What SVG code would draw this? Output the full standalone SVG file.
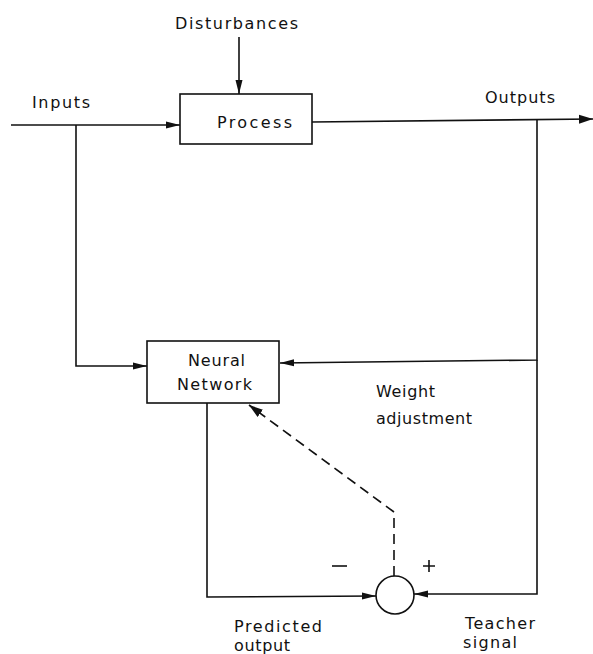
<svg xmlns="http://www.w3.org/2000/svg" width="593" height="654" viewBox="0 0 593 654">
<defs>
<style>
.t{font-family:"DejaVu Sans","Liberation Sans",sans-serif;font-size:16px;fill:#111}
.ln{stroke:#111;stroke-width:1.6;fill:none}
.bx{stroke:#111;stroke-width:1.6;fill:#fff}
.ds{stroke:#111;stroke-width:1.6;fill:none;stroke-dasharray:10,6}
</style>
<marker id="ah" viewBox="0 0 14 8" refX="14" refY="4" markerWidth="14" markerHeight="8" markerUnits="userSpaceOnUse" orient="auto">
<path d="M0,0.5 L14,4 L0,7.5 Z" fill="#111"/>
</marker>
<marker id="ahd" viewBox="0 0 14 10" refX="14" refY="5" markerWidth="14" markerHeight="10" markerUnits="userSpaceOnUse" orient="auto">
<path d="M0,0.5 L14,5 L0,9.5 Z" fill="#111"/>
</marker>
</defs>
<rect width="593" height="654" fill="#fff"/>
<g id="connectors">
<line class="ln" x1="239" y1="37" x2="239" y2="94" marker-end="url(#ah)"/>
<line class="ln" x1="11" y1="125" x2="180" y2="125" marker-end="url(#ah)"/>
<line class="ln" x1="312" y1="122" x2="593" y2="119" marker-end="url(#ahd)"/>
<polyline class="ln" points="76,125 76,366 147,366" marker-end="url(#ah)"/>
<polyline class="ln" points="537,120 537,360 280,363" marker-end="url(#ah)"/>
<polyline class="ln" points="537,360 537,594 414,594" marker-end="url(#ah)"/>
<polyline class="ln" points="207,403 207,597 376,596" marker-end="url(#ah)"/>
<polyline class="ds" points="394,576 394,512 249,405" marker-end="url(#ahd)"/>
</g>
<g id="process">
<rect class="bx" x="180" y="94" width="132" height="50"/>
<text class="t" x="217" y="128" textLength="75" lengthAdjust="spacing">Process</text>
</g>
<g id="neural-network">
<rect class="bx" x="147" y="341" width="132" height="62"/>
<text class="t" x="188" y="366" textLength="57" lengthAdjust="spacing">Neural</text>
<text class="t" x="177" y="390" textLength="75" lengthAdjust="spacing">Network</text>
</g>
<g id="summer">
<circle class="bx" cx="395" cy="595" r="19"/>
<line class="ln" x1="332" y1="566" x2="347" y2="566"/>
<path class="ln" d="M423,566 H435 M429,560 V572"/>
</g>
<g id="labels">
<text class="t" x="175" y="29" textLength="123" lengthAdjust="spacing">Disturbances</text>
<text class="t" x="32" y="108" textLength="58" lengthAdjust="spacing">Inputs</text>
<text class="t" x="485" y="103" textLength="70" lengthAdjust="spacing">Outputs</text>
<text class="t" x="376" y="397" textLength="59" lengthAdjust="spacing">Weight</text>
<text class="t" x="376" y="424" textLength="96" lengthAdjust="spacing">adjustment</text>
<text class="t" x="234" y="632" textLength="88" lengthAdjust="spacing">Predicted</text>
<text class="t" x="234" y="651" textLength="56" lengthAdjust="spacing">output</text>
<text class="t" x="465" y="629" textLength="70" lengthAdjust="spacing">Teacher</text>
<text class="t" x="463" y="648" textLength="54" lengthAdjust="spacing">signal</text>
</g>
</svg>
